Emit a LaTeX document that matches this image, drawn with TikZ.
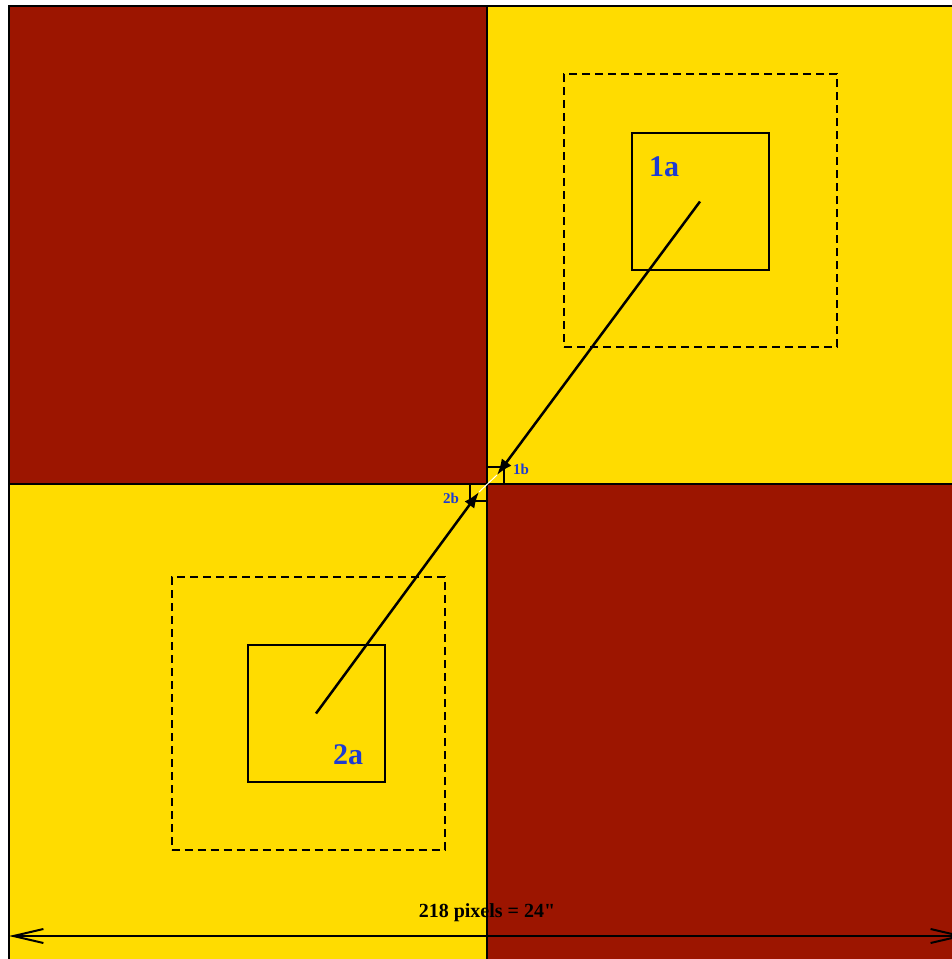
\documentclass[tikz,border=0pt]{standalone}
\usepackage{fontspec}
\setmainfont{Liberation Serif}
\newfontfamily\rawserif{Liberation Serif}
\usetikzlibrary{arrows.meta}
\definecolor{qred}{HTML}{9C1500}
\definecolor{qyel}{HTML}{FFDC00}
\definecolor{lblue}{HTML}{1E3CD2}
\tikzset{barbtip/.tip={Straight Barb[length=30pt,width=14pt,line width=2pt]}}
\begin{document}
\begin{tikzpicture}[x=1pt,y=-1pt,
 sq/.style={draw=black,line width=2pt,minimum size=#1,inner sep=0pt,outer sep=0pt},
 dsq/.style={draw=black,line width=2pt,dash pattern=on 8pt off 5pt,minimum size=#1,inner sep=0pt,outer sep=0pt},
 biglbl/.style={text=lblue,font=\fontsize{30}{30}\selectfont\bfseries,inner sep=0pt},
 smalllbl/.style={text=lblue,font=\fontsize{15}{15}\selectfont\bfseries,inner sep=0pt},
 vec/.style={line width=2.5pt,-{Latex[length=16pt,width=12pt]}}]
\useasboundingbox (0,0) rectangle (952,959);
\begin{scope}
\clip (0,0) rectangle (952,959);
\fill[white] (0,0) rectangle (952,959);
\fill[qred] (9,6) rectangle (487,484);
\fill[qyel] (487,6) rectangle (965,484);
\fill[qyel] (9,484) rectangle (487,962);
\fill[qred] (487,484) rectangle (965,962);
\draw[line width=2pt] (9,6) rectangle (965,962);
\draw[line width=2pt] (487,6) -- (487,962);
\draw[line width=2pt] (9,484) -- (965,484);
% squares
\node[dsq=273pt] (d1a) at (700.5,210.5) {};
\node[sq=137pt] (s1a) at (700,201.5) {};
\node[dsq=273pt] (d2a) at (308,713.5) {};
\node[sq=137pt] (s2a) at (316,713.5) {};
\node[sq=17pt] (s1b) at (495.5,475) {};
\node[sq=17pt] (s2b) at (478,492.5) {};
% labels
\node[biglbl] (l1a) at (664,167) {1a};
\node[biglbl] (l2a) at (348,755) {2a};
\node[smalllbl] (l1b) at (521,469) {1b};
\node[smalllbl] (l2b) at (451,498) {2b};
% vectors
\coordinate (t1) at (497,475);
\coordinate (t2) at (479,492);
\draw[white,line width=1pt] (t1) -- (t2);
\draw[vec] (s1a.center) -- (t1);
\draw[vec] (s2a.center) -- (t2);
% scale bar
\coordinate (mL) at (9,936);
\coordinate (mR) at (965,936);
\draw[line width=1.5pt,barbtip-barbtip] (mL) -- (mR);
\node[font=\fontsize{20}{20}\selectfont\rawserif\bfseries,inner sep=0pt] (scl) at (487,913) {218 pixels = 24"};
\end{scope}
\end{tikzpicture}
\end{document}
